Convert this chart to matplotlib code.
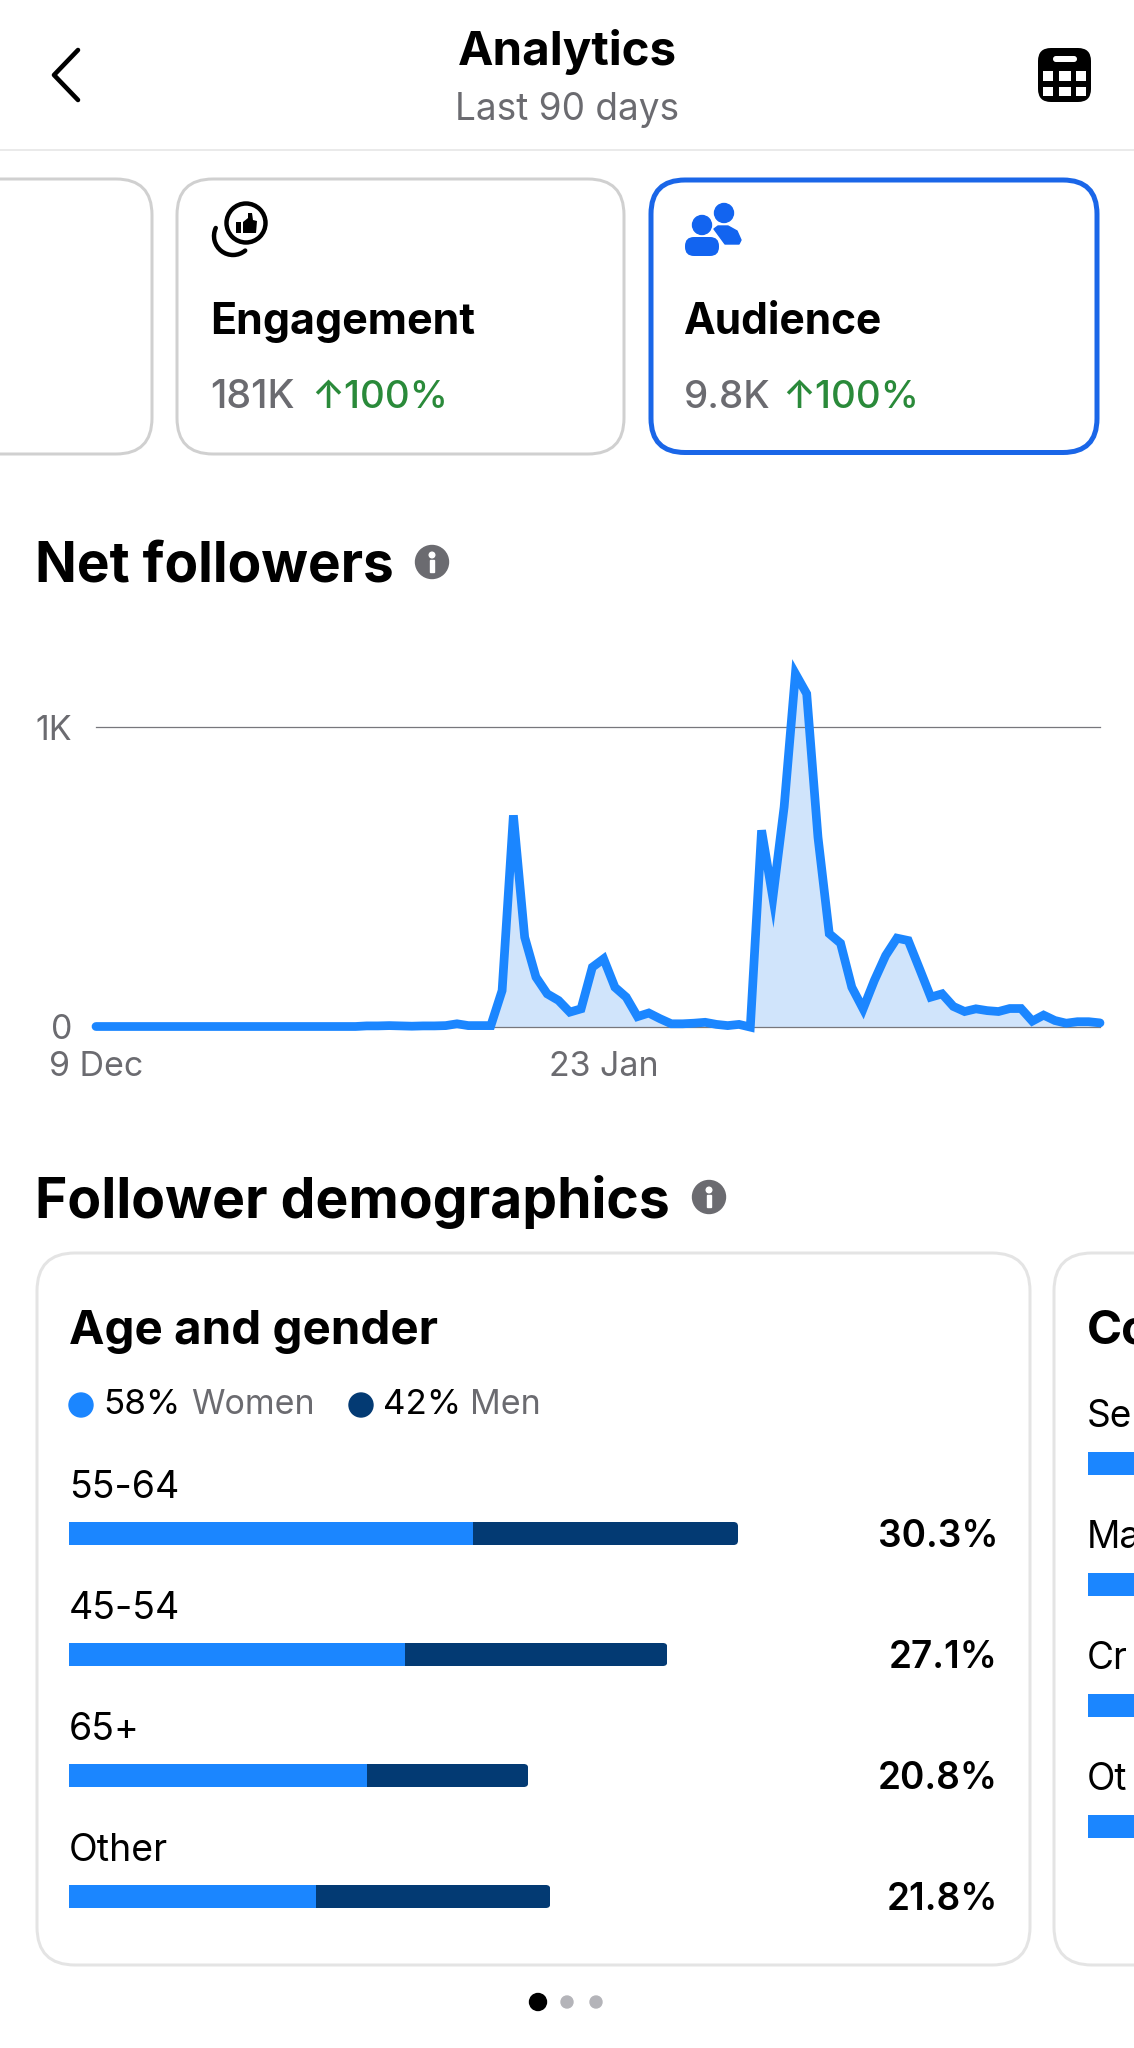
import numpy as np
from matplotlib import pyplot as plt
from matplotlib.patches import Circle, FancyBboxPatch, Rectangle, Arc, Polygon

plt.rcParams['font.family'] = ['Inter', 'DejaVu Sans']

# net followers per day, 9 Dec onwards (90 days)
net_followers = [0, 0, 0, 0, 0, 0, 0, 0, 0, 0,
                 0, 0, 0, 0, 0, 0, 0, 0, 0, 0,
                 0, 0, 0, 0, 2, 2, 3, 2, 1, 2,
                 2, 3, 9, 3, 3, 3, 120, 705, 298, 165,
                 109, 87, 48, 59, 198, 226, 131, 98, 33, 45,
                 26, 9, 9, 11, 14, 7, 3, 7, -2, 655,
                 430, 733, 1178, 1111, 632, 310, 278, 131, 59, 154,
                 237, 295, 287, 193, 98, 109, 67, 50, 59, 53,
                 50, 60, 60, 18, 38, 20, 11, 16, 16, 12]
x_tick_days = [0, 45]
x_tick_labels = ['9 Dec', '23 Jan']
y_ticks = [0, 1000]
y_tick_labels = ['0', '1K']

age_groups = ['55-64', '45-54', '65+', 'Other']
women_share = [18.3, 15.2, 13.5, 11.2]
men_share = [12.0, 11.9, 7.3, 10.6]
age_totals = ['30.3%', '27.1%', '20.8%', '21.8%']

# second demographics card is cut off by the screen edge
next_labels = ['Se', 'Ma', 'Cr', 'Ot']
next_values = [20, 15, 12, 10]

W, H = 1134, 2048
BLUE = '#1b86ff'
NAVY = '#033a73'
GREY = '#6b6b70'
GREEN = '#2a8a3a'
ICON_BLUE = '#1264f0'

fig = plt.figure(figsize=(W / 100, H / 100), dpi=100, facecolor='white')


def px_axes(left, top, right, bottom):
    a = fig.add_axes([left / W, 1 - bottom / H, (right - left) / W, (bottom - top) / H])
    a.patch.set_alpha(0)
    return a


def fs(px):
    return px * 0.72


# whole screen in pixels for the app chrome
ui = fig.add_axes([0, 0, 1, 1])
ui.set_xlim(0, W)
ui.set_ylim(H, 0)
ui.axis('off')


def label(x, y, s, size, color='black', weight='normal', ha='left'):
    ui.text(x, y, s, fontsize=fs(size), color=color, fontweight=weight, ha=ha, va='baseline')


def card(x0, y0, x1, y1, r, color, lw):
    ui.add_patch(FancyBboxPatch((x0, y0), x1 - x0, y1 - y0, boxstyle=f'round,pad=0,rounding_size={r}',
                                fc='white', ec=color, lw=lw * 0.72))


def info(x, y):
    ui.add_patch(Circle((x, y), 16.5, color=GREY))
    ui.add_patch(Circle((x, y - 7), 2.8, color='white'))
    ui.add_patch(Rectangle((x - 2, y - 2), 4, 12, color='white'))


# header
label(567, 65, 'Analytics', 47.5, weight='bold', ha='center')
label(567, 120, 'Last 90 days', 37, color=GREY, ha='center')
ui.plot([54 + 24, 54, 54 + 24], [50, 75, 100], color='black', lw=3.3, solid_capstyle='round', solid_joinstyle='round')
ui.plot([0, W], [150, 150], color='#e6e6e6', lw=1.2)

# calendar icon
ui.add_patch(FancyBboxPatch((1038, 48), 53, 54, boxstyle='round,pad=0,rounding_size=13', fc='black', ec='none'))
ui.add_patch(FancyBboxPatch((1053, 56), 24, 6, boxstyle='round,pad=0,rounding_size=3', fc='white', ec='none'))
for cx, cw in [(1043, 10), (1059, 12), (1076, 10)]:
    for cy, ch in [(71, 10), (87, 9)]:
        ui.add_patch(Rectangle((cx, cy), cw, ch, fc='white', ec='none'))

# top cards
card(-60, 179, 152, 454, 36, '#d0d0d0', 3)
card(177, 179, 624, 454, 36, '#d0d0d0', 3)
card(651, 180, 1097, 452.5, 34, '#1a66e8', 5)

# thumbs up icon
ui.add_patch(Circle((246, 223), 19.5, fc='none', ec='black', lw=3.2))
ui.add_patch(Arc((233, 236), 38, 38, theta1=50, theta2=205, color='black', lw=3.2, capstyle='round'))
ui.add_patch(Rectangle((236, 222), 5, 11, fc='black', ec='none'))
ui.add_patch(Polygon([(243, 222), (248, 218), (248, 213), (252, 213), (253, 220), (257, 221), (256, 233), (243, 233)],
                     fc='black', ec='none'))

# audience icon
ui.add_patch(Circle((724, 213), 9.5, color=ICON_BLUE))
ui.add_patch(Polygon([(714, 229), (718, 226), (728, 226), (737, 231), (741, 240), (739, 244), (725, 244)],
                     fc=ICON_BLUE, ec=ICON_BLUE, lw=1, joinstyle='round'))
ui.add_patch(Circle((702, 225), 9.5, color=ICON_BLUE))
ui.add_patch(FancyBboxPatch((685, 237), 34, 19, boxstyle='round,pad=0,rounding_size=9', fc=ICON_BLUE, ec='none'))

label(210, 334, 'Engagement', 43, weight='bold')
label(684, 334, 'Audience', 42.5, weight='bold')
label(210, 408, '181K', 39.5, color=GREY, weight='medium')
label(311, 408, '↑100%', 38.5, color=GREEN, weight='medium')
label(684, 408, '9.8K', 38.5, color=GREY, weight='medium')
label(782, 408, '↑100%', 38.5, color=GREEN, weight='medium')

# net followers chart
label(35, 582, 'Net followers', 55, weight='bold')
info(432, 562)

ax = px_axes(96, 673.0, 1100, 1026.5)
days = np.arange(len(net_followers))
ax.set_xlim(0, len(net_followers) - 1)
ax.set_ylim(0, 353.5 / 0.2995)
ax.fill_between(days, net_followers, 0, color='#d0e4fb', lw=0, clip_on=False)
for tick in y_ticks:
    ax.axhline(tick, color='#77777c', lw=0.9, zorder=1, clip_on=False)
ax.plot(days, net_followers, color=BLUE, lw=6.3, solid_joinstyle='miter', solid_capstyle='round',
        clip_on=False, zorder=3)
ax.set_xticks(x_tick_days, x_tick_labels)
ax.set_yticks(y_ticks, y_tick_labels)
ax.tick_params(length=0, labelsize=fs(34), labelcolor=GREY)
ax.tick_params(axis='y', pad=17)
ax.tick_params(axis='x', pad=17.5)
for s in ax.spines.values():
    s.set_visible(False)

# follower demographics
label(35, 1218, 'Follower demographics', 55.3, weight='bold')
info(709, 1197)
card(37, 1253, 1030, 1965, 38, '#e4e4e4', 3)
card(1054, 1253, 1200, 1965, 38, '#e4e4e4', 3)

label(69, 1344, 'Age and gender', 47.5, weight='bold')
label(1087, 1344, 'Co', 47.5, weight='bold')

# legend
ui.add_patch(Circle((81, 1405), 12, color=BLUE))
label(103, 1414, '58%', 35)
label(191, 1414, 'Women', 34, color=GREY)
ui.add_patch(Circle((361, 1405), 12, color=NAVY))
label(383, 1414, '42%', 35)
label(470, 1414, 'Men', 34, color=GREY)

# one row per age group, 121 px apart, bar centres from y=1533.5
row_px = 121.0
px_per_pct = 22.08
rows = np.arange(len(age_groups))
bar_h = 23 / row_px
bx = px_axes(69, 1533.5 - row_px / 2, W, 1533.5 + row_px * 3.5)
bx.set_xlim(0, (W - 69) / px_per_pct)
bx.set_ylim(3.5, -0.5)
bx.axis('off')
bx.barh(rows, women_share, height=bar_h, color=BLUE)
men_bars = bx.barh(rows, men_share, left=women_share, height=bar_h, color=NAVY)
# only the far end of the bar is rounded
for rect, w, m, r in zip(men_bars, women_share, men_share, rows):
    rounded = FancyBboxPatch((w - 1, r - bar_h / 2), m + 1, bar_h,
                             boxstyle='round,pad=0,rounding_size=0.2',
                             mutation_aspect=px_per_pct / row_px, transform=bx.transData, fc='none', ec='none')
    bx.add_patch(rounded)
    rect.set_clip_path(rounded)

for r, (name, total) in enumerate(zip(age_groups, age_totals)):
    label(69, 1498 + 121 * r, name, 37.5)
    label(998, 1547 + 121 * r, total, 37, weight='semibold', ha='right')

# second card, only its left edge is on screen
nx = px_axes(1088, 1463 - row_px / 2, W, 1463 + row_px * 3.5)
nx.set_xlim(0, (W - 1088) / px_per_pct)
nx.set_ylim(3.5, -0.5)
nx.axis('off')
nx.barh(np.arange(len(next_values)), next_values, height=bar_h, color=BLUE)
for r, name in enumerate(next_labels):
    label(1087, 1427 + 121 * r, name, 37)

# pager
ui.add_patch(Circle((538, 2002), 8.5, color='black'))
ui.add_patch(Circle((567, 2002), 6, color='#b4b4b9'))
ui.add_patch(Circle((596, 2002), 6, color='#b4b4b9'))

fig.savefig('out.png', dpi=100)
